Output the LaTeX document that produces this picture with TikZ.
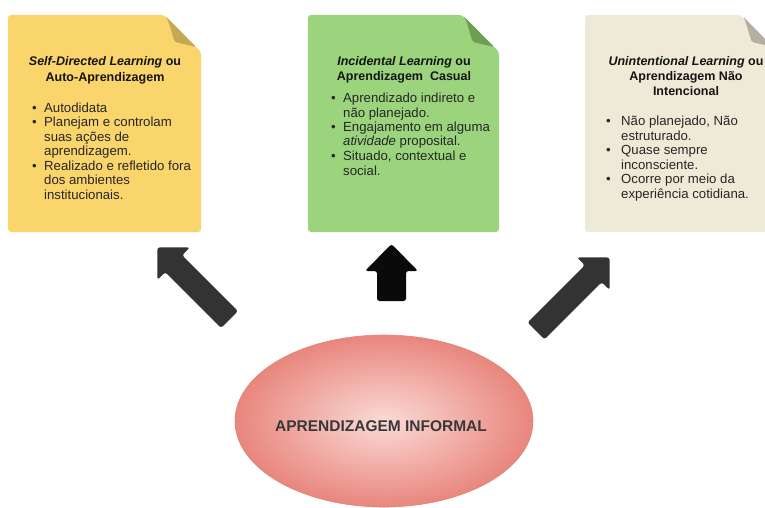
\documentclass[tikz,border=0pt]{standalone}
\usepackage{fontspec}
\setmainfont{Liberation Sans}
\usetikzlibrary{shapes.geometric}

\definecolor{noteyellow}{HTML}{F9D56B}
\definecolor{foldyellow}{HTML}{C4A955}
\definecolor{notegreen}{HTML}{9BD47D}
\definecolor{foldgreen}{HTML}{6E9E52}
\definecolor{notebeige}{HTML}{EFEAD8}
\definecolor{foldbeige}{HTML}{B4AFA2}
\definecolor{arrowgray}{HTML}{333333}
\definecolor{arrowblack}{HTML}{0A0A0A}
\definecolor{pinkin}{HTML}{FBDAD6}
\definecolor{pinkout}{HTML}{E8867D}
\definecolor{pinkline}{HTML}{E2877F}

% sticky-note card with a folded top-right corner
\newcommand\notecard[4]{%
  \fill[#3, rounded corners=3pt] (#1,15) -- (#2-37,15) -- (#2,52) -- (#2,232) -- (#1,232) -- cycle;
  \fill[#4, rounded corners=1.5pt] (#2-35,16.5) .. controls (#2-31,24) and (#2-29,35) .. (#2-26,42)
    -- (#2-5,47) -- cycle;
}

% thick block arrow: tail x, tail y, angle, length, shaft, head width, head length, colour
\newcommand\blockarrow[8]{%
  \begin{scope}[shift={(#1,#2)}, rotate=#3]
    \fill[#8, rounded corners=2.5pt] (0,-#5/2) -- (#4-#7,-#5/2) -- (#4-#7,-#6/2) -- (#4,0)
      -- (#4-#7,#6/2) -- (#4-#7,#5/2) -- (0,#5/2) -- cycle;
  \end{scope}
}

\newcommand\bul[1][12pt]{\makebox[#1][l]{\textbullet}}

\begin{document}
\begin{tikzpicture}[x=1pt, y=-1pt,
  notetitle/.style={anchor=base, align=center, inner sep=0pt,
    font=\fontsize{12.5}{15.5}\selectfont\bfseries, text=black!92},
  notebody/.style={anchor=base west, align=left, inner sep=0pt,
    font=\fontsize{13.2}{14.5}\selectfont, text=black!85},
  centertext/.style={inner sep=0pt, font=\fontsize{15.5}{18}\selectfont\bfseries, text=black!78}]

\useasboundingbox (0,0) rectangle (765,508);
\clip (0,0) rectangle (765,508);
\fill[white] (0,0) rectangle (765,508);

% three cards
\notecard{8}{201}{noteyellow}{foldyellow}
\notecard{308}{499}{notegreen}{foldgreen}
\notecard{585}{778}{notebeige}{foldbeige}

% the base anchor of a multi-line node sits on its last line

% self-directed learning
\node[notetitle] (selftitle) at (105,81.5)
  {\textit{Self-Directed Learning} ou\\Auto-Aprendizagem};
\node[notebody] (selfbody) at (32,199)
  {\bul Autodidata\\
   \bul Planejam e controlam\\
   \hspace*{12pt}suas ações de\\
   \hspace*{12pt}aprendizagem.\\
   \bul Realizado e refletido fora\\
   \hspace*{12pt}dos ambientes\\
   \hspace*{12pt}institucionais.};

% incidental learning
\node[notetitle] (inctitle) at (404,81)
  {\textit{Incidental Learning} ou\\Aprendizagem\ \ Casual};
\node[notebody] (incbody) at (331,175)
  {\bul Aprendizado indireto e\\
   \hspace*{12pt}não planejado.\\
   \bul Engajamento em alguma\\
   \hspace*{12pt}\textit{atividade} proposital.\\
   \bul Situado, contextual e\\
   \hspace*{12pt}social.};

% unintentional learning
\node[notetitle] (unititle) at (686,96)
  {\textit{Unintentional Learning} ou\\Aprendizagem Não\\Intencional};
\node[notebody] (unibody) at (606,198)
  {\bul[15pt]Não planejado, Não\\
   \hspace*{15pt}estruturado.\\
   \bul[15pt]Quase sempre\\
   \hspace*{15pt}inconsciente.\\
   \bul[15pt]Ocorre por meio da\\
   \hspace*{15pt}experiência cotidiana.};

% arrows
\blockarrow{229.5}{319.5}{135}{102}{24}{46}{23}{arrowgray}
\blockarrow{391.5}{301}{90}{57}{29}{53}{27}{arrowblack}
\blockarrow{536}{331}{45}{104}{24}{46}{23}{arrowgray}

% central ellipse
\node[ellipse, minimum width=298pt, minimum height=172pt, inner sep=0pt,
      shading=radial, inner color=pinkin, outer color=pinkout,
      draw=pinkline, line width=0.6pt] (informal) at (384,421) {};
\node[centertext] (informaltext) at (381,426) {APRENDIZAGEM INFORMAL};

\end{tikzpicture}
\end{document}
